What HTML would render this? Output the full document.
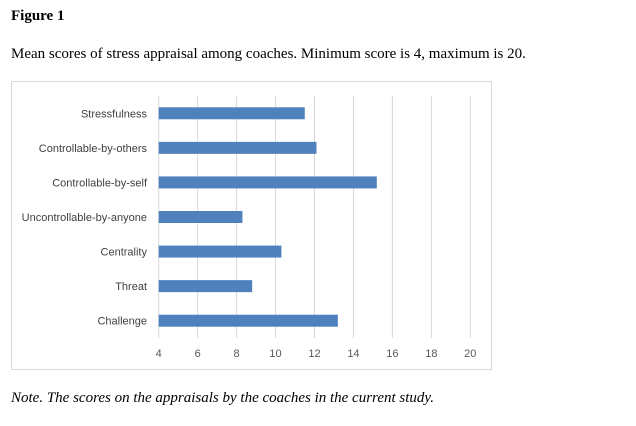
<!DOCTYPE html>
<html><head><meta charset="utf-8"><style>
body{margin:0;background:#fff;width:636px;height:426px;overflow:hidden;position:relative;font-family:"Liberation Serif",serif;}
.t{position:absolute;left:11px;color:#000;font-size:15px;}
</style></head><body>
<div class="t" style="top:8px;font-weight:bold;">Figure 1</div>
<div class="t" style="top:46px;">Mean scores of stress appraisal among coaches. Minimum score is 4, maximum is 20.</div>
<svg id="chart" style="position:absolute;left:0;top:0" width="636" height="426"></svg>
<div class="t" style="top:390px;font-style:italic;">Note. The scores on the appraisals by the coaches in the current study.</div>
<script>
const categories=["Stressfulness","Controllable-by-others","Controllable-by-self","Uncontrollable-by-anyone","Centrality","Threat","Challenge"];
const values=[11.5,12.1,15.2,8.3,10.3,8.8,13.2];
const ticks=[4,6,8,10,12,14,16,18,20];
const NS="http://www.w3.org/2000/svg";
const svg=document.getElementById('chart');
const x0=158.7,x1=470.3,vmin=4,vmax=20;
const xs=v=>x0+(v-vmin)/(vmax-vmin)*(x1-x0);
const yTop=96,yBot=338,band=(yBot-yTop)/categories.length;
const yc=i=>yTop+band*(i+0.5);
function mk(t,a){const e=document.createElementNS(NS,t);for(const k in a)e.setAttribute(k,a[k]);svg.appendChild(e);return e;}
const box=mk('rect',{x:11.5,y:81.5,width:480,height:288,fill:'#fff',stroke:'#d9d9d9'});


ticks.forEach(t=>{
 const l=mk('line',{x1:xs(t),x2:xs(t),y1:yTop,y2:yBot,stroke:'#d9d9d9','stroke-width':1});
 
 
 const tx=mk('text',{x:xs(t),y:357,'text-anchor':'middle','font-size':11,fill:'#595959','font-family':'Liberation Sans, sans-serif'});
 tx.textContent=t;
 
 
});
categories.forEach((c,i)=>{
 const r=mk('rect',{x:xs(vmin),y:yc(i)-6,width:xs(values[i])-xs(vmin),height:12,fill:'#4f81bd'});
 
 
 const tx=mk('text',{x:147,y:yc(i)+4,'text-anchor':'end','font-size':11,fill:'#404040','font-family':'Liberation Sans, sans-serif'});
 tx.textContent=c;
 
 
});
</script>
</body></html>
